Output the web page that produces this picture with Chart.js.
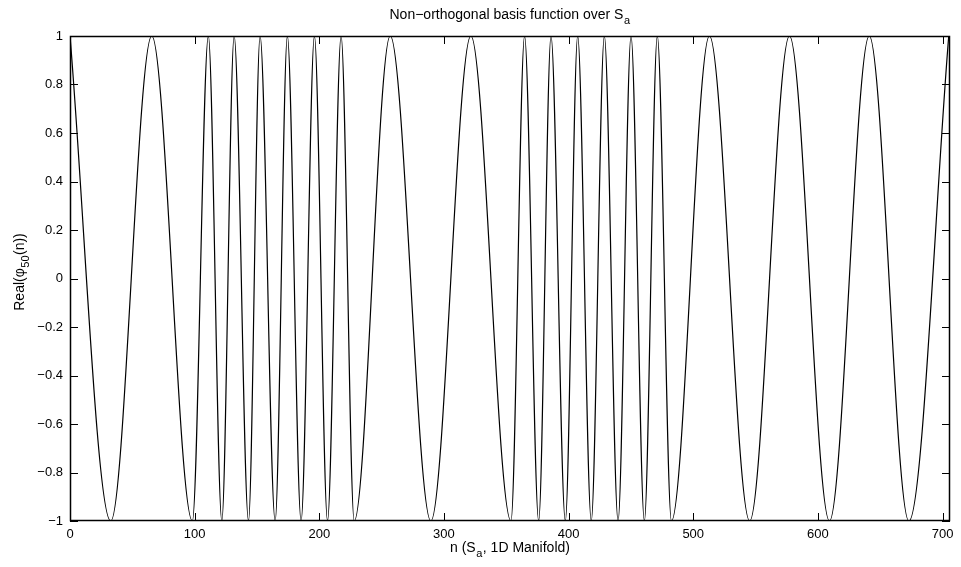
<!DOCTYPE html>
<html>
<head>
<meta charset="utf-8">
<script src="https://cdn.jsdelivr.net/npm/chart.js@4.4.0/dist/chart.umd.min.js"></script>
<style>
  body { margin: 0; background: #fff; }
  #wrap { width: 961px; height: 567px; }
</style>
</head>
<body>
<div id="wrap"><canvas id="grafico" width="961" height="567"></canvas></div>
<script>
// Posiciones de máximos y mínimos (n)
var extremosN = [0, 32.7, 65.6, 98.2, 111.0, 121.8, 131.7, 143.2, 152.5, 164.6, 174.4, 185.4,
  196.1, 206.6, 217.5, 228.0, 256.9, 289.5, 321.6, 353.8, 364.7, 376.0, 385.9, 397.4,
  407.3, 418.2, 428.7, 439.7, 450.1, 460.8, 471.2, 482.5, 513.0, 545.3, 577.2, 609.3,
  641.2, 673.0, 705.0];
var extremosValor = [1, -1, 1, -1, 1, -1, 1, -1, 1, -1, 1, -1,
  1, -1, 1, -1, 1, -1, 1, -1, 1, -1, 1, -1,
  1, -1, 1, -1, 1, -1, 1, -1, 1, -1, 1, -1,
  1, -1, 1];
var ticksX = [0, 100, 200, 300, 400, 500, 600, 700];
var ticksY = [-1, -0.8, -0.6, -0.4, -0.2, 0, 0.2, 0.4, 0.6, 0.8, 1];

var fuente = '"Liberation Sans", Arial, Helvetica, sans-serif';

// Texto con subíndices
function textoConSub(ctx, partes, x, y) {
    var total = 0;
    partes.forEach(function(p) {
        ctx.font = (p.sub ? '11px ' : '14px ') + fuente;
        total += ctx.measureText(p.t).width + (p.sub ? 1 : 0);
    });
    var cx = x - total / 2;
    partes.forEach(function(p) {
        ctx.font = (p.sub ? '11px ' : '14px ') + fuente;
        ctx.fillText(p.t, cx + (p.sub ? 0.5 : 0), p.sub ? y + 6 : y);
        cx += ctx.measureText(p.t).width + (p.sub ? 1 : 0);
    });
}

var marcoYTextos = {
    id: 'marcoYTextos',
    afterDatasetsDraw: function(chart) {
        var ctx = chart.ctx, a = chart.chartArea;
        var sx = chart.scales.x, sy = chart.scales.y;
        ctx.save();
        ctx.strokeStyle = '#000';
        ctx.lineWidth = 1.5;
        ctx.strokeRect(a.left + 0.5, a.top + 0.5, a.right - a.left - 1, a.bottom - a.top - 1);
        ctx.lineWidth = 1;
        ctx.beginPath();
        ticksX.forEach(function(v) {
            var px = Math.round(sx.getPixelForValue(v)) + 0.5;
            ctx.moveTo(px, a.bottom); ctx.lineTo(px, a.bottom - 8);
            ctx.moveTo(px, a.top); ctx.lineTo(px, a.top + 8);
        });
        ticksY.forEach(function(v) {
            var py = Math.round(sy.getPixelForValue(v)) + 0.5;
            ctx.moveTo(a.left, py); ctx.lineTo(a.left + 8, py);
            ctx.moveTo(a.right, py); ctx.lineTo(a.right - 8, py);
        });
        ctx.stroke();

        ctx.fillStyle = '#000';
        ctx.textBaseline = 'middle';
        ctx.textAlign = 'left';
        var cx = (a.left + a.right) / 2;
        textoConSub(ctx, [{t: 'Non\u2212orthogonal basis function over S'}, {t: 'a', sub: true}], cx, 15);
        textoConSub(ctx, [{t: 'n (S'}, {t: 'a', sub: true}, {t: ', 1D Manifold)'}], cx, 548);
        ctx.translate(20, 272);
        ctx.rotate(-Math.PI / 2);
        textoConSub(ctx, [{t: 'Real(\u03c6'}, {t: '50', sub: true}, {t: '(n))'}], 0, 0);
        ctx.restore();
    }
};

function etiqueta(v) {
    var s = String(Number(v.toFixed(1)));
    return s.replace('-', '\u2212');
}

var puntos = extremosN.map(function(n, i) { return {x: n, y: extremosValor[i]}; });

new Chart(document.getElementById('grafico').getContext('2d'), {
    type: 'line',
    data: {
        datasets: [{
            data: puntos,
            borderColor: '#000',
            borderWidth: 1.2,
            pointRadius: 0,
            fill: false,
            cubicInterpolationMode: 'monotone'
        }]
    },
    options: {
        responsive: false,
        animation: false,
        events: [],
        layout: { padding: { top: 36, right: 11, left: 0, bottom: 0 } },
        plugins: { legend: { display: false }, tooltip: { enabled: false } },
        scales: {
            x: {
                type: 'linear',
                min: 0,
                max: 706,
                afterFit: function(s) { s.height = 46; },
                afterBuildTicks: function(s) { s.ticks = ticksX.map(function(v) { return {value: v}; }); },
                grid: { display: false, drawTicks: false },
                border: { display: false },
                ticks: {
                    color: '#000', padding: 6, maxRotation: 0,
                    font: { family: fuente, size: 13 },
                    callback: function(v) { return etiqueta(v); }
                }
            },
            y: {
                min: -1,
                max: 1,
                afterFit: function(s) { s.width = 70; },
                afterBuildTicks: function(s) { s.ticks = ticksY.map(function(v) { return {value: v}; }); },
                grid: { display: false, drawTicks: false },
                border: { display: false },
                ticks: {
                    color: '#000', padding: 7,
                    font: { family: fuente, size: 13 },
                    callback: function(v) { return etiqueta(v); }
                }
            }
        }
    },
    plugins: [marcoYTextos]
});
</script>
</body>
</html>
